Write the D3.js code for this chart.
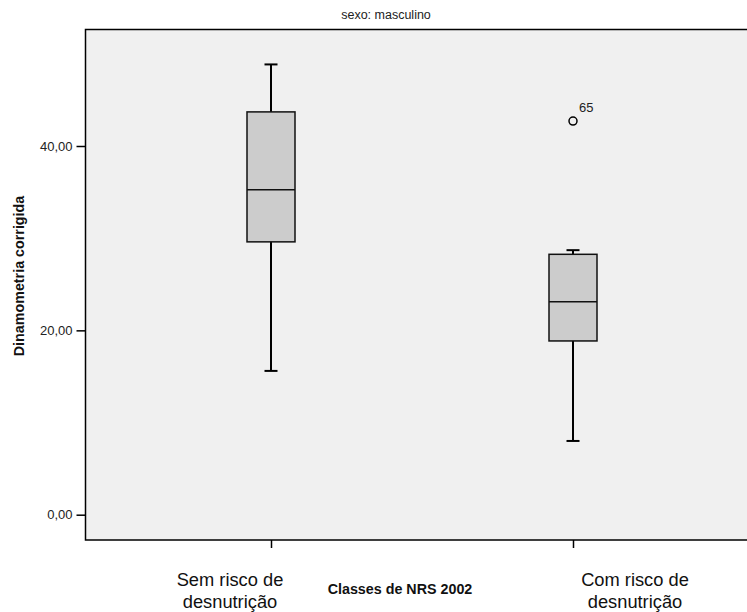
<!DOCTYPE html>
<html>
<head>
<meta charset="utf-8">
<script src="https://cdn.jsdelivr.net/npm/d3@7"></script>
<style>
body { margin: 0; background: #fff; }
text { font-family: "Liberation Sans", Arial, sans-serif; }
</style>
</head>
<body>
<svg width="747" height="612"></svg>
<script>
// categories and box stats
var categories = ["Sem risco de|desnutrição", "Com risco de|desnutrição"];
var whiskerLow = [15.6, 8.0];
var q1 = [29.6, 18.85];
var median = [35.25, 23.1];
var q3 = [43.7, 28.25];
var whiskerHigh = [48.85, 28.7];
var outlierCat = [1];
var outlierVal = [42.7];
var outlierLabel = ["65"];
var yTicks = [0, 20, 40];

var plot = {left: 85.5, top: 29.5, right: 752, bottom: 540};
// where SPSS put the category labels, relative to each tick
var labelShift = [-41, 62];

var svg = d3.select("svg");

svg.append("rect")
  .attr("x", plot.left).attr("y", plot.top)
  .attr("width", plot.right - plot.left).attr("height", plot.bottom - plot.top)
  .attr("fill", "#f0f0f0")
  .attr("stroke", "#000")
  .attr("stroke-width", 1.5);

var yScale = d3.scaleLinear()
  .domain([0, 40])
  .range([514.7, 146]);

var xScale = d3.scalePoint()
  .domain(categories)
  .range([271, 573]);

var yAxis = d3.axisLeft(yScale)
  .tickValues(yTicks)
  .tickSize(9)
  .tickPadding(4)
  .tickFormat(function(d){ return d3.format(".2f")(d).replace(".", ","); });

var gy = svg.append("g")
  .attr("transform", "translate(" + plot.left + ",0)")
  .call(yAxis);
gy.select(".domain").remove();
gy.selectAll("line").attr("stroke", "#000").attr("stroke-width", 1.5);
gy.selectAll("text").attr("font-size", 13).attr("fill", "#222")
  .style("font-family", "Liberation Sans, Arial, sans-serif");

var xAxis = d3.axisBottom(xScale).tickSize(8).tickFormat("");
var gx = svg.append("g")
  .attr("transform", "translate(0," + plot.bottom + ")")
  .call(xAxis);
gx.select(".domain").remove();
gx.selectAll("line").attr("stroke", "#000").attr("stroke-width", 1.5);

// category labels
categories.forEach(function(c, k){
  var lines = c.split("|");
  lines.forEach(function(l, i){
    svg.append("text")
      .attr("x", xScale(c) + labelShift[k])
      .attr("y", 586 + i * 21.5)
      .attr("text-anchor", "middle")
      .attr("font-size", 18.3)
      .attr("fill", "#111")
      .text(l);
  });
});

var boxW = 48, capW = 13;
var boxes = svg.selectAll("g.box")
  .data(categories)
  .enter()
  .append("g")
  .attr("class", "box");

boxes.append("line")
  .attr("x1", function(d){ return xScale(d); })
  .attr("x2", function(d){ return xScale(d); })
  .attr("y1", function(d, i){ return yScale(whiskerHigh[i]); })
  .attr("y2", function(d, i){ return yScale(whiskerLow[i]); })
  .attr("stroke", "#000").attr("stroke-width", 2);

[whiskerHigh, whiskerLow].forEach(function(arr){
  boxes.append("line")
    .attr("x1", function(d){ return xScale(d) - capW / 2; })
    .attr("x2", function(d){ return xScale(d) + capW / 2; })
    .attr("y1", function(d, i){ return yScale(arr[i]); })
    .attr("y2", function(d, i){ return yScale(arr[i]); })
    .attr("stroke", "#000").attr("stroke-width", 2);
});

boxes.append("rect")
  .attr("x", function(d){ return xScale(d) - boxW / 2; })
  .attr("y", function(d, i){ return yScale(q3[i]); })
  .attr("width", boxW)
  .attr("height", function(d, i){ return yScale(q1[i]) - yScale(q3[i]); })
  .attr("fill", "#cccccc")
  .attr("stroke", "#111").attr("stroke-width", 1.5);

boxes.append("line")
  .attr("x1", function(d){ return xScale(d) - boxW / 2; })
  .attr("x2", function(d){ return xScale(d) + boxW / 2; })
  .attr("y1", function(d, i){ return yScale(median[i]); })
  .attr("y2", function(d, i){ return yScale(median[i]); })
  .attr("stroke", "#111").attr("stroke-width", 1.5);

outlierVal.forEach(function(v, i){
  var cx = xScale(categories[outlierCat[i]]);
  svg.append("circle")
    .attr("cx", cx).attr("cy", yScale(v)).attr("r", 4)
    .attr("fill", "none").attr("stroke", "#000").attr("stroke-width", 1.5);
  svg.append("text")
    .attr("x", cx + 6).attr("y", yScale(v) - 9)
    .attr("font-size", 13).attr("fill", "#222")
    .text(outlierLabel[i]);
});

svg.append("text")
  .attr("x", 386).attr("y", 19)
  .attr("text-anchor", "middle")
  .attr("font-size", 12.5).attr("fill", "#222")
  .text("sexo: masculino");

svg.append("text")
  .attr("x", 400).attr("y", 594)
  .attr("text-anchor", "middle")
  .attr("font-size", 14.3).attr("font-weight", "bold").attr("fill", "#111")
  .text("Classes de NRS 2002");

svg.append("text")
  .attr("transform", "translate(24,276) rotate(-90)")
  .attr("text-anchor", "middle")
  .attr("font-size", 14.3).attr("font-weight", "bold").attr("fill", "#111")
  .text("Dinamometria corrigida");
</script>
</body>
</html>
